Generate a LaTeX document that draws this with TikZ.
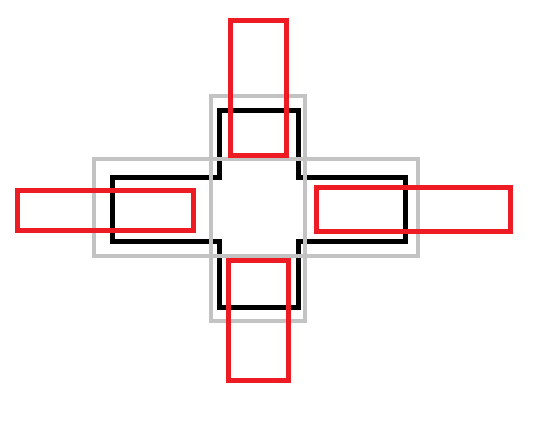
\documentclass[tikz,border=0pt]{standalone}
\definecolor{paintred}{RGB}{237,28,36}
\definecolor{paintgray}{RGB}{195,195,195}
\tikzset{
    blackline/.style={draw=black, line width=5pt},
    grayline/.style={draw=paintgray, line width=4pt},
    redline/.style={draw=paintred, line width=5pt}
}
\begin{document}
\begin{tikzpicture}[x=1pt, y=-1pt]
    \useasboundingbox (0,0) rectangle (558,426);

    % black cross
    \draw[blackline] (219,110)--(298,110)--(298,177)--(405,177)--(405,241)--(298,241)
        --(298,307)--(219,307)--(219,241)--(112,241)--(112,177)--(219,177)--cycle;

    % gray boxes
    \draw[grayline] (211,96) rectangle (305,321);
    \draw[grayline] (94,159) rectangle (418,256);

    % red boxes
    \draw[redline] (230,20) rectangle (286.5,155);
    \draw[redline] (228.5,260) rectangle (288.5,380);
    \draw[redline] (17.5,190.5) rectangle (193.5,230.5);
    \draw[redline] (316.5,187) rectangle (510.5,231.5);

    \end{tikzpicture}
\end{document}
